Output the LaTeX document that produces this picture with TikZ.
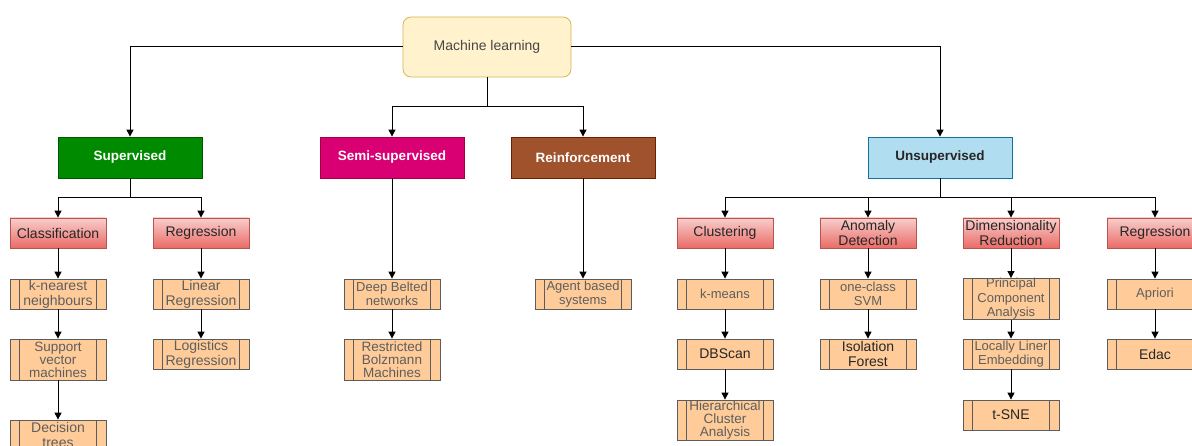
\documentclass[tikz,border=0pt]{standalone}
\usepackage{fontspec}
\setmainfont{Liberation Sans}
\usetikzlibrary{arrows.meta}
\definecolor{mlfill}{HTML}{FFF2CC}
\definecolor{mldraw}{HTML}{D6B656}
\definecolor{supfill}{HTML}{008A00}
\definecolor{supdraw}{HTML}{005700}
\definecolor{semifill}{HTML}{D80073}
\definecolor{semidraw}{HTML}{A50040}
\definecolor{reinfill}{HTML}{A0522D}
\definecolor{reindraw}{HTML}{6D1F00}
\definecolor{unsfill}{HTML}{B1DDF0}
\definecolor{unsdraw}{HTML}{10739E}
\definecolor{redtop}{HTML}{F8CECC}
\definecolor{redbot}{HTML}{EA6B66}
\definecolor{reddraw}{HTML}{B85450}
\definecolor{procfill}{HTML}{FFCC99}
\definecolor{procdraw}{HTML}{5C5C5C}
\definecolor{txtgrey}{HTML}{5E5E5E}
\definecolor{txtdark}{HTML}{262626}
\tikzset{
  x=1pt, y=-1pt,
  every node/.style={inner sep=0pt, align=center, font=\fontsize{14}{15}\selectfont},
  root/.style={draw=mldraw, fill=mlfill, rounded corners=8pt, minimum width=168pt, minimum height=60pt, text=txtdark!85, line width=0.8pt},
  lvlone/.style={minimum width=144pt, minimum height=41pt, text=white, line width=0.8pt, font=\fontsize{13.5}{15}\selectfont\bfseries},
  lvltwo/.style={draw=reddraw, top color=redtop, bottom color=redbot, minimum width=96pt, minimum height=30pt, text=txtdark, line width=0.8pt},
  smalltxt/.style={font=\fontsize{13}{14.5}\selectfont},
  tighttxt/.style={font=\fontsize{13.5}{13}\selectfont},
  proc/.style={draw=procdraw, fill=procfill, minimum width=96pt, minimum height=#1, text=txtgrey, line width=0.8pt,
    path picture={
      \draw[procdraw, line width=0.8pt] ([xshift=9.6pt]path picture bounding box.north west) -- ([xshift=9.6pt]path picture bounding box.south west);
      \draw[procdraw, line width=0.8pt] ([xshift=-9.6pt]path picture bounding box.north east) -- ([xshift=-9.6pt]path picture bounding box.south east);
    }},
  proc/.default=30pt,
  conn/.style={draw=black, line width=1pt},
  arr/.style={conn, -{Triangle[length=7pt,width=7pt]}},
}
\begin{document}
\begin{tikzpicture}
\useasboundingbox (0,0) rectangle (1192,446);
\clip (0,0) rectangle (1192,446);
\fill[white] (0,0) rectangle (1192,446);

% root
\node[root] (ml) at (487,47) {Machine learning};

% level 1
\node[lvlone, draw=supdraw, fill=supfill] (sup) at (130,157.5) {Supervised};
\node[lvlone, draw=semidraw, fill=semifill] (semi) at (392,157.5) {Semi-supervised};
\node[lvlone, draw=reindraw, fill=reinfill] (rein) at (583,157.5) {Reinforcement};
\node[lvlone, draw=unsdraw, fill=unsfill, text=txtdark] (uns) at (940,157.5) {Unsupervised};

% level 2
\node[lvltwo] (cls) at (58,233) {Classification};
\node[lvltwo] (reg) at (201,233) {Regression};
\node[lvltwo] (clu) at (725,233) {Clustering};
\node[lvltwo] (ano) at (868,233) {Anomaly\\Detection};
\node[lvltwo] (dim) at (1011,233) {Dimensionality\\Reduction};
\node[lvltwo] (reg2) at (1155,233) {Regression};

% level 3 - supervised
\node[proc] (knn) at (58,294) {k-nearest\\neighbours};
\node[proc=41pt, tighttxt] (svm) at (58,359.5) {Support\\vector\\machines};
\node[proc] (dt) at (58,435) {Decision\\trees};
\node[proc] (lin) at (201,294) {Linear\\Regression};
\node[proc] (log) at (201,354) {Logistics\\Regression};

% semi / reinforcement
\node[proc, smalltxt] (dbn) at (392,294) {Deep Belted\\networks};
\node[proc=41pt, tighttxt] (rbm) at (392,359.5) {Restricted\\Bolzmann\\Machines};
\node[proc, smalltxt] (agent) at (583,294) {Agent based\\systems};

% unsupervised
\node[proc, smalltxt] (km) at (725,294) {k-means};
\node[proc, text=txtdark] (dbs) at (725,354) {DBScan};
\node[proc=40pt, tighttxt] (hca) at (725,420) {Hierarchical\\Cluster\\Analysis};
\node[proc, smalltxt] (ocs) at (868,294) {one-class\\SVM};
\node[proc, text=txtdark] (iso) at (868,354) {Isolation\\Forest};
\node[proc=40pt, smalltxt] (pca) at (1011,299) {Principal\\Component\\Analysis};
\node[proc, smalltxt] (lle) at (1011,354) {Locally Liner\\Embedding};
\node[proc, text=txtdark] (tsne) at (1011,415) {t-SNE};
\node[proc, smalltxt] (apr) at (1155,294) {Apriori};
\node[proc, text=txtdark] (edac) at (1155,354) {Edac};

% connectors from root
\coordinate (j1) at (487,107);
\draw[arr] (ml.west) -| (sup.north);
\draw[arr] (ml.east) -| (uns.north);
\draw[conn] (ml.south) -- (j1);
\draw[arr] (j1) -| (semi.north);
\draw[arr] (j1) -| (rein.north);

% supervised
\coordinate (j2) at (130,198);
\draw[conn] (sup.south) -- (j2);
\draw[arr] (j2) -| (cls.north);
\draw[arr] (j2) -| (reg.north);

% unsupervised
\coordinate (j3) at (940,198);
\draw[conn] (uns.south) -- (j3);
\draw[arr] (j3) -| (clu.north);
\draw[arr] (j3) -| (ano.north);
\draw[arr] (j3) -| (dim.north);
\draw[arr] (j3) -| (reg2.north);

% chains
\draw[arr] (cls) -- (knn);
\draw[arr] (knn) -- (svm);
\draw[arr] (svm) -- (dt);
\draw[arr] (reg) -- (lin);
\draw[arr] (lin) -- (log);
\draw[arr] (semi) -- (dbn);
\draw[arr] (dbn) -- (rbm);
\draw[arr] (rein) -- (agent);
\draw[arr] (clu) -- (km);
\draw[arr] (km) -- (dbs);
\draw[arr] (dbs) -- (hca);
\draw[arr] (ano) -- (ocs);
\draw[arr] (ocs) -- (iso);
\draw[arr] (dim) -- (pca);
\draw[arr] (pca) -- (lle);
\draw[arr] (lle) -- (tsne);
\draw[arr] (reg2) -- (apr);
\draw[arr] (apr) -- (edac);
\end{tikzpicture}
\end{document}
